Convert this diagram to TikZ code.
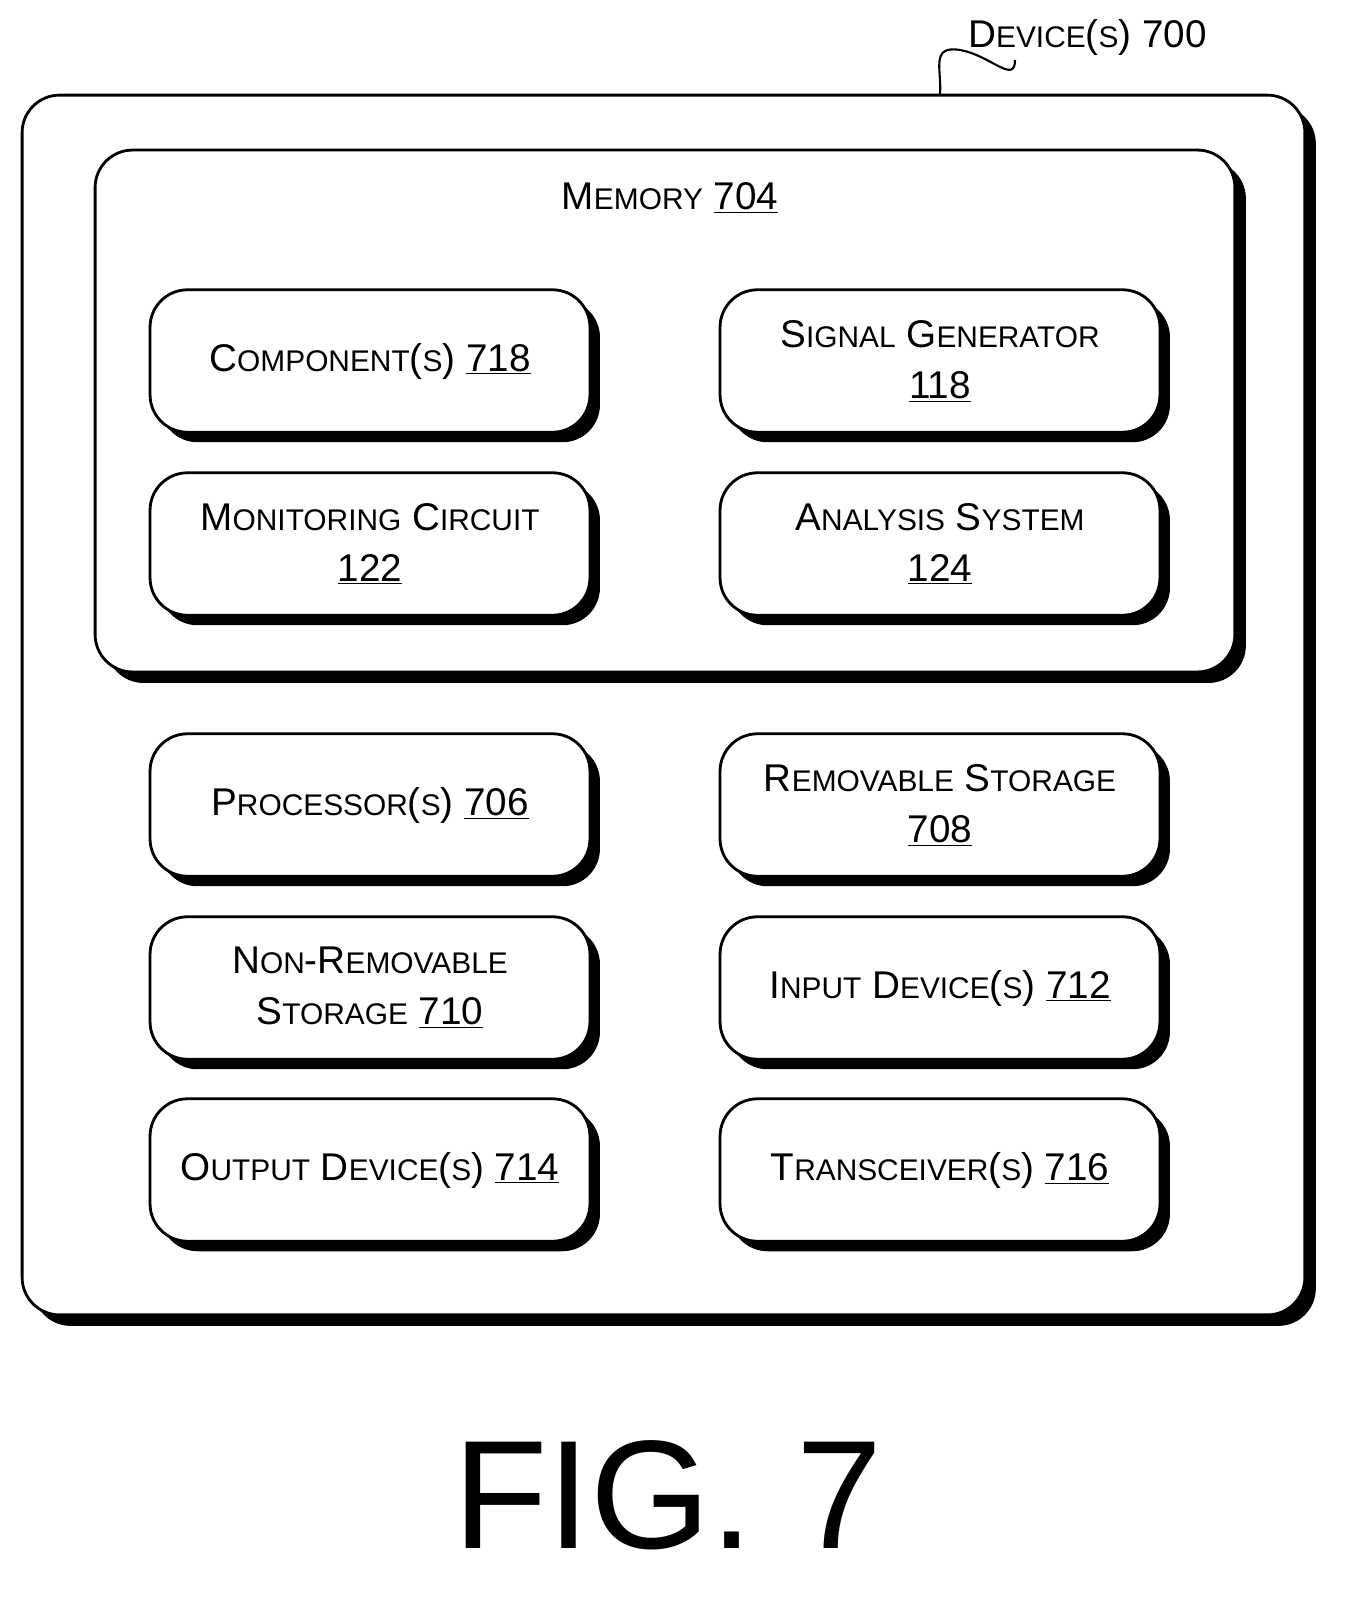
\documentclass[tikz,border=0pt]{standalone}
\usepackage{fontspec}
\setmainfont{Liberation Sans}
\usetikzlibrary{shadows}
\newcommand{\fsc}[2]{#1{\fontsize{17}{20}\selectfont #2}}
\tikzset{
    unit/.style={
        rounded corners=0.75cm,
        draw=black,
        fill=white,
        line width=1.6pt,
        minimum width=8.8cm,
        minimum height=2.85cm,
        align=center,
        font=\fontsize{22}{29}\selectfont,
        drop shadow={shadow xshift=0.2cm, shadow yshift=-0.2cm, fill=black, opacity=1}
    },
    frame/.style={
        rounded corners=0.75cm,
        draw=black,
        fill=white,
        line width=1.6pt,
        drop shadow={shadow xshift=0.22cm, shadow yshift=-0.22cm, fill=black, opacity=1}
    }
}

\begin{document}
\begin{tikzpicture}[x=0.02cm,y=-0.02cm]
	\useasboundingbox (0,0) rectangle (1365,1597);
	% outer frame and memory frame
	\node (device) [frame, minimum width=25.66cm, minimum height=24.4cm] at (663.5,705) {};
	\node (memory) [frame, minimum width=22.8cm, minimum height=10.44cm] at (665,411) {};
	\node (memlabel) [font=\fontsize{22}{29}\selectfont] at (670,198) {\fsc{M}{EMORY} \underline{704}};

	% units inside memory
	\node (comp) [unit] at (370,361) {\fsc{C}{OMPONENT}(\fsc{}{S}) \underline{718}};
	\node (siggen) [unit] at (940,361) {\fsc{S}{IGNAL} \fsc{G}{ENERATOR}\\\underline{118}};
	\node (monitor) [unit] at (370,544) {\fsc{M}{ONITORING} \fsc{C}{IRCUIT}\\\underline{122}};
	\node (analysis) [unit] at (940,544) {\fsc{A}{NALYSIS} \fsc{S}{YSTEM}\\\underline{124}};

	% other units
	\node (proc) [unit] at (370,805) {\fsc{P}{ROCESSOR}(\fsc{}{S}) \underline{706}};
	\node (remstore) [unit] at (940,805) {\fsc{R}{EMOVABLE} \fsc{S}{TORAGE}\\\underline{708}};
	\node (nonrem) [unit] at (370,988) {\fsc{N}{ON}-\fsc{R}{EMOVABLE}\\\fsc{S}{TORAGE} \underline{710}};
	\node (input) [unit] at (940,988) {\fsc{I}{NPUT} \fsc{D}{EVICE}(\fsc{}{S}) \underline{712}};
	\node (output) [unit] at (370,1170) {\fsc{O}{UTPUT} \fsc{D}{EVICE}(\fsc{}{S}) \underline{714}};
	\node (trans) [unit] at (940,1170) {\fsc{T}{RANSCEIVER}(\fsc{}{S}) \underline{716}};

	% reference label
	\node (devlabel) [anchor=west, font=\fontsize{22}{29}\selectfont] at (962,37) {\fsc{D}{EVICE}(\fsc{}{S}) 700};
	\coordinate (tick) at (940,94);
	\draw[line width=1.2pt] (tick) .. controls (942,70) and (930,45) .. (960,50)
	    .. controls (990,55) and (1015,85) .. (1015,60);

	\node (fig) [font=\fontsize{88}{100}\selectfont] at (668,1495) {FIG. 7};
\end{tikzpicture}
\end{document}
